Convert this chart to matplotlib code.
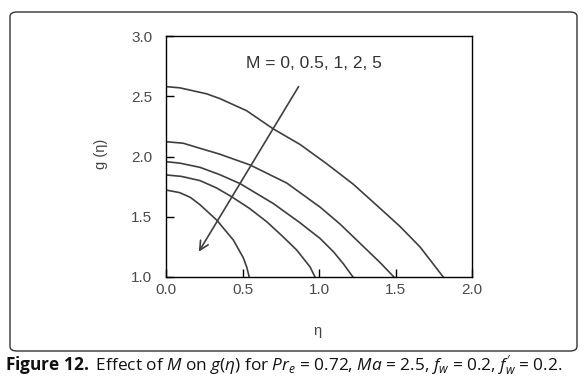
import matplotlib
matplotlib.use("Agg")
import matplotlib.pyplot as plt
from matplotlib.patches import FancyBboxPatch

# curves g(eta) for M = 0, 0.5, 1, 2, 5
eta_m0 = [0, 0.09, 0.266, 0.353, 0.527, 0.70, 0.876, 1.05, 1.224, 1.399, 1.529, 1.66, 1.812]
g_m0 = [2.58, 2.57, 2.52, 2.48, 2.38, 2.23, 2.10, 1.94, 1.77, 1.57, 1.42, 1.25, 1.0]

eta_m05 = [0, 0.113, 0.222, 0.35, 0.549, 0.789, 1.007, 1.137, 1.268, 1.399, 1.49]
g_m05 = [2.123, 2.11, 2.068, 2.02, 1.93, 1.78, 1.58, 1.44, 1.28, 1.12, 1.0]

eta_m1 = [0, 0.09, 0.222, 0.35, 0.484, 0.701, 0.876, 1.007, 1.094, 1.159, 1.222]
g_m1 = [1.957, 1.945, 1.91, 1.85, 1.775, 1.61, 1.45, 1.32, 1.21, 1.11, 1.0]

eta_m2 = [0, 0.1, 0.222, 0.329, 0.429, 0.545, 0.658, 0.76, 0.854, 0.941, 0.974]
g_m2 = [1.847, 1.835, 1.80, 1.74, 1.666, 1.57, 1.459, 1.34, 1.224, 1.085, 1.0]

eta_m5 = [0, 0.09, 0.16, 0.222, 0.331, 0.44, 0.505, 0.527, 0.544]
g_m5 = [1.722, 1.70, 1.66, 1.60, 1.473, 1.307, 1.16, 1.085, 1.0]

xticks = [0.0, 0.5, 1.0, 1.5, 2.0]
yticks = [1.0, 1.5, 2.0, 2.5, 3.0]

plt.rcParams['font.family'] = ['Liberation Sans', 'DejaVu Sans']
plt.rcParams['mathtext.fontset'] = 'custom'
plt.rcParams['mathtext.rm'] = 'Open Sans'
plt.rcParams['mathtext.it'] = 'Open Sans:italic'
plt.rcParams['mathtext.bf'] = 'Open Sans:bold'

fig = plt.figure(figsize=(5.88, 3.81), dpi=100)
ax = fig.add_axes([166/588, 1 - 277/381, 306/588, 241/381])

line_col = '#3f3f3f'
for xs, ys in [(eta_m0, g_m0), (eta_m05, g_m05), (eta_m1, g_m1), (eta_m2, g_m2), (eta_m5, g_m5)]:
    ax.plot(xs, ys, color=line_col, lw=1.2)

ax.set_xlim(0, 2)
ax.set_ylim(1, 3)
ax.set_xticks(xticks)
ax.set_yticks(yticks)
ax.set_xticklabels(['%.1f' % v for v in xticks])
ax.set_yticklabels(['%.1f' % v for v in yticks])
ax.tick_params(direction='in', length=6, width=1, labelsize=11, labelcolor='#4a4a4a')
ax.tick_params(axis='y', pad=10)
ax.tick_params(axis='x', pad=4)
for s in ax.spines.values():
    s.set_linewidth(1)

ax.set_ylabel('g (η)', fontsize=10.5, color='#444444')
ax.yaxis.set_label_coords(-0.19, 0.51)
ax.set_xlabel('η', fontsize=10.5, color='#444444')
ax.xaxis.set_label_coords(0.493, -0.195)

# arrow across the curves
ax.annotate('', xy=(0.205, 1.19), xytext=(0.876, 2.60),
            arrowprops=dict(arrowstyle='->', color=line_col, lw=1.2, mutation_scale=16))
ax.text(0.97, 2.77, 'M = 0, 0.5, 1, 2, 5', fontsize=12.5, color='#333333',
        ha='center', va='center')

# rounded frame around the chart
frame = FancyBboxPatch((10/588, 1 - 351/381), 567/588, 339/381,
                       boxstyle='round,pad=0,rounding_size=0.012',
                       transform=fig.transFigure, fill=False,
                       edgecolor='#333333', lw=1)
fig.patches.append(frame)

fig.text(5/588, 1 - 366/381,
         r"$\mathbf{Figure\ 12.}$ Effect of $M$ on $g(\eta)$ for $Pr_e$ = 0.72, "
         r"$Ma$ = 2.5, $f_w$ = 0.2, $f_w^{\prime}$ = 0.2.",
         fontsize=12.4, family='Open Sans', ha='left', va='center', color='#111111')

fig.savefig('out.png', dpi=100)
